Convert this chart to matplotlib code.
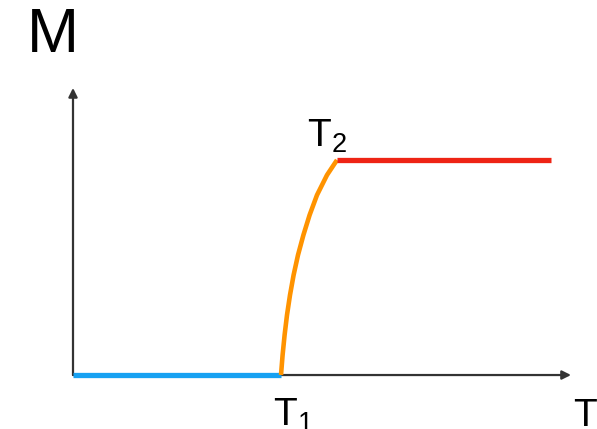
import matplotlib
matplotlib.use("Agg")
import matplotlib.pyplot as plt

plt.rcParams['font.family'] = ['Liberation Sans', 'DejaVu Sans']
plt.rcParams['mathtext.fontset'] = 'custom'
plt.rcParams['mathtext.rm'] = 'Liberation Sans'
plt.rcParams['mathtext.it'] = 'Liberation Sans'

# temperatures (arbitrary units) and magnetisation levels
T1 = 4.16
T2 = 5.28
T_end = 9.56
M_sat = 1.0

# low-temperature branch
low_T = [0.0, T1]
low_M = [0.0, 0.0]

# transition between T1 and T2
mid_T = [4.16, 4.192, 4.232, 4.28, 4.34, 4.412, 4.50, 4.608, 4.732, 4.88, 5.08, 5.28]
mid_M = [0.0, 0.093, 0.186, 0.279, 0.372, 0.465, 0.558, 0.651, 0.744, 0.837, 0.930, 1.0]

# saturated branch
high_T = [T2, T_end]
high_M = [M_sat, M_sat]

x_axis_end = 9.96
y_axis_end = 1.335

fig = plt.figure(figsize=(5.97, 4.29), dpi=100)
ax = fig.add_axes([0, 0, 1, 1])
ax.set_xlim(-1.46, 10.48)
ax.set_ylim(-0.251, 1.744)
ax.axis('off')

# axes with arrow heads
arrow = dict(arrowstyle='-|>', color='#333333', lw=1.6, mutation_scale=13,
             shrinkA=0, shrinkB=0)
ax.annotate('', xy=(x_axis_end, 0), xytext=(0, 0), arrowprops=arrow)
ax.annotate('', xy=(0, y_axis_end), xytext=(0, 0), arrowprops=arrow)

ax.plot(low_T, low_M, color='#17a1f2', lw=3.8, solid_capstyle='butt', zorder=3)
ax.plot(mid_T, mid_M, color='#ff9300', lw=3.3, solid_capstyle='butt',
        solid_joinstyle='round', zorder=3)
ax.plot(high_T, high_M, color='#ee2415', lw=3.8, solid_capstyle='butt', zorder=3)

ax.text(-0.4, 1.58, 'M', fontsize=45, ha='center', va='center')
ax.text(5.08, 1.06, r'T$_\mathrm{2}$', fontsize=28, ha='center', va='baseline')
ax.text(4.4, -0.235, r'T$_\mathrm{1}$', fontsize=28, ha='center', va='baseline')
ax.text(10.24, -0.235, 'T', fontsize=28, ha='center', va='baseline')

fig.savefig('out.png', dpi=100)
